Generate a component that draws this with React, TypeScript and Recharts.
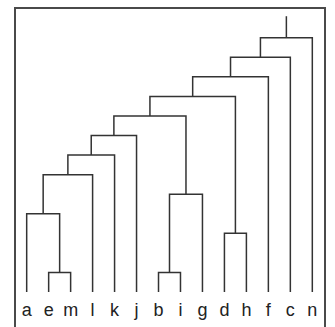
import { LineChart, Line, XAxis, YAxis } from 'recharts';

const leaves = ['a', 'e', 'm', 'l', 'k', 'j', 'b', 'i', 'g', 'd', 'h', 'f', 'c', 'n'];
// hclust-style merges: negative = leaf (1-based), positive = earlier merge step
const mergeLeft = [-2, -7, -10, -1, 2, 4, 6, 7, 8, 9, 10, 11, 12];
const mergeRight = [-3, -8, -11, 1, -9, -4, -5, -6, 5, 3, -12, -13, -14];
const mergeHeight = [1, 1, 3, 4, 5, 6, 7, 8, 9, 10, 11, 12, 13];
const rootTop = 14.1;

type Pt = { x: number; y: number };

function buildLinks() {
  const nodes: { x: number; h: number }[] = [];
  const ref = (id: number) => (id < 0 ? { x: -id - 1, h: 0 } : nodes[id - 1]);
  const links: Pt[][] = [];
  mergeLeft.forEach((l, i) => {
    const a = ref(l);
    const b = ref(mergeRight[i]);
    const h = mergeHeight[i];
    nodes.push({ x: (a.x + b.x) / 2, h });
    links.push([
      { x: a.x, y: a.h },
      { x: a.x, y: h },
      { x: b.x, y: h },
      { x: b.x, y: b.h },
    ]);
  });
  const root = nodes[nodes.length - 1];
  links.push([
    { x: root.x, y: root.h },
    { x: root.x, y: rootTop },
  ]);
  return links;
}

const links = buildLinks();
const ticks = leaves.map((_, i) => i);

export default function App() {
  return (
    <div style={{ position: 'absolute', left: 0, top: 0, width: 335, height: 327, overflow: 'hidden' }}>
      {/* frame, open at the bottom */}
      <div
        style={{
          position: 'absolute',
          left: 14,
          top: 6.5,
          width: 312,
          height: 321,
          boxSizing: 'border-box',
          borderLeft: '2px solid #4a4a4a',
          borderTop: '2px solid #4a4a4a',
          borderRight: '2px solid #4a4a4a',
        }}
      />
      <div style={{ position: 'absolute', left: 0, top: 0 }}>
        <LineChart width={335} height={327} margin={{ top: 8.4, right: 11.7, bottom: 0, left: 15.7 }}>
          <XAxis
            type="number"
            dataKey="x"
            domain={[-0.5, 13.5]}
            ticks={ticks}
            interval={0}
            tickFormatter={(i: number) => leaves[i]}
            axisLine={false}
            tickLine={false}
            tickSize={6}
            tickMargin={5}
            height={35}
            tick={{ fontSize: 18, fill: '#222', fontFamily: 'Liberation Sans, Arial, sans-serif' }}
          />
          <YAxis hide type="number" domain={[0, 14.5]} />
          {links.map((pts, i) => (
            <Line
              key={i}
              data={pts}
              dataKey="y"
              type="linear"
              stroke="#333"
              strokeWidth={1.5}
              dot={false}
              activeDot={false}
              isAnimationActive={false}
            />
          ))}
        </LineChart>
      </div>
    </div>
  );
}
